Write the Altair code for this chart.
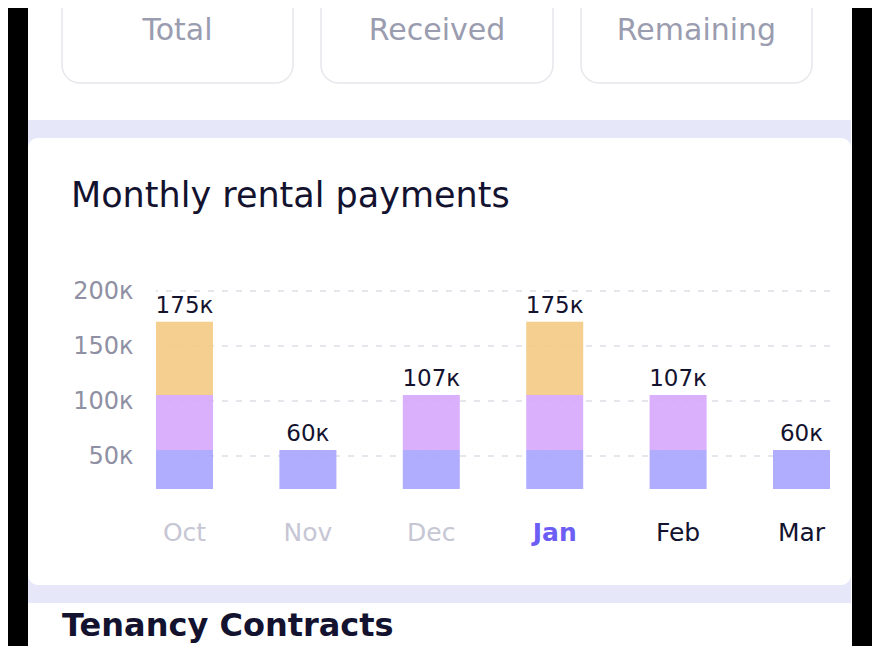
import altair as alt
import pandas as pd

# ---- data (in axis units) ----
months = ["Oct", "Nov", "Dec", "Jan", "Feb", "Mar"]
base = 20000
blue = [35500, 35500, 35500, 35500, 35500, 35500]
purple = [50000, 0, 50000, 50000, 50000, 0]
orange = [66500, 0, 0, 66500, 0, 0]
value_labels = ["175к", "60к", "107к", "175к", "107к", "60к"]
tick_values = [50000, 100000, 150000, 200000]
segments = ["blue", "purple", "orange"]
seg_colors = ["#A9A6FF", "#D7A9FC", "#F4CB85"]
box_titles = ["Total", "Received", "Remaining"]

FONT = "DejaVu Sans"
DARK = "#13122F"

rows = []
tops = []
for i, m in enumerate(months):
    lo = base
    for seg, vals in zip(segments, [blue, purple, orange]):
        v = vals[i]
        if v > 0:
            rows.append({"month": m, "seg": seg, "lo": lo, "hi": lo + v})
            lo += v
    tops.append({"month": m, "top": lo, "label": value_labels[i]})
bars_df = pd.DataFrame(rows)
tops_df = pd.DataFrame(tops)
ticks_df = pd.DataFrame({"v": tick_values})
one = pd.DataFrame({"a": [0]})

W, H = 674, 198
xscale = alt.Scale(domain=months, paddingInner=0.538, paddingOuter=0)
yscale = alt.Scale(domain=[20000, 200000], nice=False, zero=False)

label_color = ("datum.value == 'Jan' ? '#6C5DF5' : "
               "(datum.value == 'Feb' || datum.value == 'Mar') ? '#13122F' : '#C6C6D4'")
x_axis = alt.Axis(
    domain=False, ticks=False, labelAngle=0, labelPadding=31, labelFontSize=25,
    labelFont=FONT, labelColor={"expr": label_color},
    labelFontWeight={"expr": "datum.value == 'Jan' ? 700 : 400"},
    title=None, zindex=1,
)
y_axis = alt.Axis(
    values=tick_values, labelExpr="datum.value / 1000 + 'к'", grid=False,
    domain=False, ticks=False, labelPadding=23, labelFontSize=24,
    labelColor="#8F90A4", labelFont=FONT, title=None, zindex=1,
)

# ---- decorative page pieces (pixel positions relative to plot origin) ----
def rect(x1, x2, y1, y2, color, radius=0, stroke=None):
    kw = dict(color=color, cornerRadius=radius)
    if stroke:
        kw = dict(fill=color, stroke=stroke, strokeWidth=1.5, cornerRadius=radius)
    return alt.Chart(one).mark_rect(**kw).encode(
        x=alt.value(x1), x2=alt.value(x2), y=alt.value(y1), y2=alt.value(y2)
    )

left_strip = rect(-200, -128, -400, 500, "#000000")
right_strip = rect(696, 1000, -400, 500, "#000000")
band = rect(-128, 695, -171, 312, "#E7E7FA")
card = rect(-128, 695, -153, 294, "#FFFFFF", radius=10)

box_x = [(-94, 137), (165, 397), (425, 656)]
boxes = [rect(a, b, -330, -208, "#FFFFFF", radius=18, stroke="#E6E8EC") for a, b in box_x]
box_texts = [
    alt.Chart(one).mark_text(
        text=t, font=FONT, fontSize=30, color="#9A9CB0", align="center", baseline="alphabetic"
    ).encode(x=alt.value((a + b) / 2), y=alt.value(-251))
    for t, (a, b) in zip(box_titles, box_x)
]

title = alt.Chart(one).mark_text(
    text="Monthly rental payments", font=FONT, fontSize=35,
    color=DARK, align="left", baseline="alphabetic"
).encode(x=alt.value(-85), y=alt.value(-84))

footer = alt.Chart(one).mark_text(
    text="Tenancy Contracts", font=FONT, fontSize=32, fontWeight="bold",
    color=DARK, align="left", baseline="alphabetic"
).encode(x=alt.value(-94), y=alt.value(345))

# ---- chart ----
grid = alt.Chart(ticks_df).mark_rule(
    color="#DDE0E6", strokeWidth=1.5, strokeDash=[6, 8]
).encode(y=alt.Y("v:Q", scale=yscale, axis=y_axis))

bars = alt.Chart(bars_df).mark_bar(opacity=0.92).encode(
    x=alt.X("month:N", sort=months, scale=xscale, axis=x_axis),
    y=alt.Y("lo:Q", scale=yscale, axis=y_axis),
    y2="hi:Q",
    color=alt.Color("seg:N", scale=alt.Scale(domain=segments, range=seg_colors), legend=None),
)

value_text = alt.Chart(tops_df).mark_text(
    font=FONT, fontSize=23, color=DARK, baseline="alphabetic", dy=-9
).encode(
    x=alt.X("month:N", sort=months, scale=xscale, axis=x_axis),
    y=alt.Y("top:Q", scale=yscale, axis=y_axis),
    text="label:N",
)

chart = alt.layer(
    left_strip, right_strip, band, card, *boxes, *box_texts, title, footer,
    grid, bars, value_text,
).properties(
    width=W, height=H,
    autosize=alt.AutoSizeParams(type="none"),
    padding={"left": 148, "top": 283, "right": 42, "bottom": 157},
    background="white",
).configure_view(stroke=None)

chart.save("out.html", embed_options={"renderer": "svg", "actions": False})
